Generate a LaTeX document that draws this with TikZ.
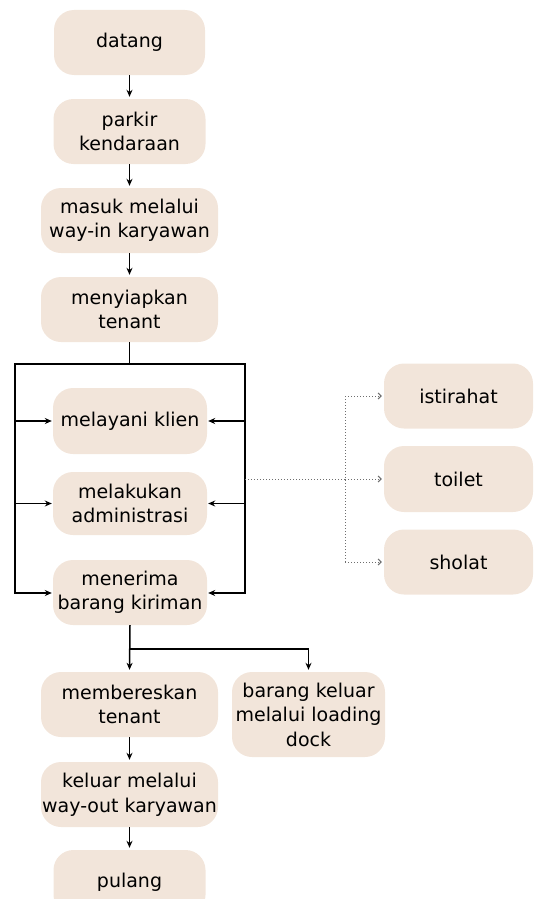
\documentclass[tikz,border=0pt]{standalone}
\usepackage{fontspec}
\setmainfont{DejaVu Sans}
\usetikzlibrary{arrows.meta}
\definecolor{boxfill}{RGB}{242,229,218}
\definecolor{dotgray}{RGB}{110,110,110}
\tikzset{
  stepbox/.style={fill=boxfill, rounded corners=20pt, align=center, inner sep=0pt,
    font=\fontsize{19}{24.5}\selectfont, text=black},
  flow/.style={line width=1.5pt, black},
  flowarrow/.style={flow, -{Stealth[length=7pt,width=6pt]}},
  dotarrow/.style={dotted, line width=1pt, dotgray, -{Straight Barb[length=3pt,width=6pt]}},
  dotline/.style={dotted, line width=1pt, dotgray},
}
\begin{document}
\begin{tikzpicture}[x=1pt,y=-1pt]
\useasboundingbox (0,0) rectangle (534,899);
\begin{scope}
\clip (0,0) rectangle (534,899);
\node[stepbox, minimum width=151pt, minimum height=65pt] (datang) at (129.5,42.5) {datang};
\node[stepbox, minimum width=152pt, minimum height=65pt] (parkir) at (129.5,131.5) {parkir\\kendaraan};
\node[stepbox, minimum width=177pt, minimum height=65pt] (masuk) at (129.5,220.5) {masuk melalui\\way-in karyawan};
\node[stepbox, minimum width=177pt, minimum height=65pt] (siap) at (129.5,309.5) {menyiapkan\\tenant};
\node[stepbox, minimum width=154pt, minimum height=66pt] (layani) at (130,421) {melayani klien};
\node[stepbox, minimum width=154pt, minimum height=63pt] (admin) at (130,503.5) {melakukan\\administrasi};
\node[stepbox, minimum width=154pt, minimum height=65pt] (terima) at (130,592.5) {menerima\\barang kiriman};
\node[stepbox, minimum width=177pt, minimum height=65pt] (beres) at (129.5,704.5) {membereskan\\tenant};
\node[stepbox, minimum width=153pt, minimum height=85pt] (dock) at (308.5,714.5) {barang keluar\\melalui loading\\dock};
\node[stepbox, minimum width=177pt, minimum height=65pt] (keluar) at (129.5,794.5) {keluar melalui\\way-out karyawan};
\node[stepbox, minimum width=152pt, minimum height=65pt] (pulang) at (129.5,882.5) {pulang};
\node[stepbox, minimum width=149pt, minimum height=65pt] (istirahat) at (458.5,396) {istirahat};
\node[stepbox, minimum width=149pt, minimum height=66pt] (toilet) at (458.5,479) {toilet};
\node[stepbox, minimum width=149pt, minimum height=65pt] (sholat) at (458.5,562) {sholat};
\end{scope}

\coordinate (tl) at (15,364);
\coordinate (tr) at (245,364);
\coordinate (bl) at (15,593);
\coordinate (br) at (245,593);
\coordinate (dv) at (345,479);
\coordinate (split) at (130,649);

\draw[flowarrow, shorten >=2pt] (datang) -- (parkir);
\draw[flowarrow, shorten >=2pt] (parkir) -- (masuk);
\draw[flowarrow, shorten >=2pt] (masuk) -- (siap);
\draw[flow] (siap.south) -- (siap.south |- tl);
\draw[flow, line cap=rect] (bl) -- (tl) -- (tr) -- (br);
\draw[flowarrow, shorten >=1pt] (tl |- layani) -- (layani.west);
\draw[flowarrow, shorten >=1pt] (tl |- admin) -- (admin.west);
\draw[flowarrow, shorten >=1pt] (bl) -- (bl -| terima.west);
\draw[flowarrow, shorten >=1pt] (tr |- layani) -- (layani.east);
\draw[flowarrow, shorten >=1pt] (tr |- admin) -- (admin.east);
\draw[flowarrow, shorten >=1pt] (br) -- (br -| terima.east);

\draw[dotline] (tr |- toilet) -- (dv);
\draw[dotline] (dv |- istirahat) -- (dv |- sholat);
\draw[dotarrow, shorten >=2pt] (dv |- istirahat) -- (istirahat.west);
\draw[dotarrow, shorten >=2pt] (dv) -- (toilet.west);
\draw[dotarrow, shorten >=2pt] (dv |- sholat) -- (sholat.west);

\draw[flowarrow, shorten >=2pt] (terima.south) -- (beres.north);
\draw[flowarrow, shorten >=2pt] (split) -| (dock.north);
\draw[flowarrow, shorten >=2pt] (beres) -- (keluar);
\draw[flowarrow, shorten >=2pt] (keluar) -- (keluar |- pulang.north);
\end{tikzpicture}
\end{document}
